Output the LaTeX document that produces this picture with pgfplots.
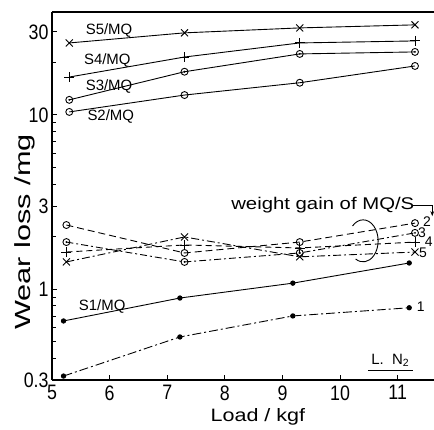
\documentclass[border=0pt]{standalone}
\usepackage{fontspec}
\setmainfont{Liberation Sans}
\newfontfamily\tickfont[FakeStretch=0.85]{Liberation Sans}
\newfontfamily\widefont[FakeStretch=1.2]{Liberation Sans}
\newfontfamily\labelfont[FakeStretch=1.4]{Liberation Sans}
\usepackage{pgfplots}
\usepackage{pgfplotstable}
\pgfplotsset{compat=1.18}
\usetikzlibrary{calc,arrows.meta}

% circle with a dot in it
\pgfdeclareplotmark{odot}{%
  \pgfpathcircle{\pgfpointorigin}{\pgfplotmarksize}\pgfusepathqstroke
  \pgfpathcircle{\pgfpointorigin}{0.3\pgfplotmarksize}\pgfusepathqfill}

% wear loss, S/MQ couples
\pgfplotstableread{
x y
5.3 25.9
7.3 29.6
9.3 31.6
11.3 32.9
}\sfive
\pgfplotstableread{
x y
5.3 16.5
7.3 21.5
9.3 25.9
11.3 26.6
}\sfour
\pgfplotstableread{
x y
5.3 12.2
7.3 17.7
9.3 22.4
11.3 23.0
}\sthree
\pgfplotstableread{
x y
5.3 10.4
7.3 13.0
9.3 15.3
11.3 19.1
}\stwo
\pgfplotstableread{
x y
5.2 0.655
7.22 0.887
9.18 1.08
11.2 1.41
}\sone
% weight gain of MQ/S
\pgfplotstableread{
x y
5.2 0.316
7.22 0.53
9.18 0.70
11.2 0.78
}\gone
\pgfplotstableread{
x y
5.25 2.33
7.3 1.61
9.3 1.86
11.3 2.39
}\gtwo
\pgfplotstableread{
x y
5.25 1.86
7.3 1.43
9.3 1.61
11.3 2.10
}\gthree
\pgfplotstableread{
x y
5.25 1.63
7.3 1.79
9.3 1.72
11.3 1.86
}\gfour
\pgfplotstableread{
x y
5.25 1.43
7.3 1.99
9.3 1.53
11.3 1.63
}\gfive

\begin{document}
\begin{tikzpicture}
\begin{axis}[
  name=ax,
  scale only axis,
  width=382bp, height=368bp,
  xmin=5, xmax=11.63,
  ymode=log, ymin=0.3, ymax=39,
  axis x line*=bottom, axis y line*=left,
  axis line style={-, line width=1.1pt},
  xtick={5,...,11}, xticklabels={5,6,7,8,9,10,11},
  ytick={0.3,1,3,10,30}, yticklabels={0.3,1,3,10,30},
  minor ytick={0.4,0.5,0.6,0.7,0.8,0.9,2,4,5,6,7,8,9,20},
  tick align=inside,
  major tick length=5bp, minor tick length=4bp,
  every tick/.style={black, line width=0.8pt},
  ticklabel style={font=\tickfont\fontsize{21}{21}\selectfont},
  xticklabel style={yshift=-2bp},
  xlabel={Load / kgf},
  ylabel={Wear loss /mg},
  xlabel style={at={(axis description cs:0.539,-0.1005)}, anchor=center,
    font=\widefont\fontsize{18}{18}\selectfont},
  ylabel style={at={(axis description cs:-0.0707,0.402)}, anchor=center,
    font=\labelfont\fontsize{22}{22}\selectfont},
  clip=false,
  every axis plot/.append style={black, line width=0.9pt},
]
\draw[line width=1.1pt] (rel axis cs:0,1) -- (rel axis cs:1,1);

\addplot[mark=x, mark size=5pt] table {\sfive};
\addplot[mark=+, mark size=5pt] table {\sfour};
\addplot[mark=odot, mark size=3.5pt] table {\sthree};
\addplot[mark=o, mark size=3.5pt] table {\stwo};
\addplot[mark=*, mark size=2.2pt] table {\sone};

\addplot[dash pattern=on 9pt off 3pt on 2pt off 3pt, mark=*, mark size=2.2pt, mark options={solid}] table {\gone};
\addplot[dash pattern=on 7pt off 4pt, mark=o, mark size=3.5pt, mark options={solid}] table {\gtwo};
\addplot[dash pattern=on 7pt off 3pt on 2pt off 3pt, mark=odot, mark size=3.5pt, mark options={solid}] table {\gthree};
\addplot[dash pattern=on 6pt off 4pt, mark=+, mark size=5pt, mark options={solid}] table {\gfour};
\addplot[dash pattern=on 8pt off 3pt on 2pt off 3pt, mark=x, mark size=5pt, mark options={solid}] table {\gfive};

\begin{scope}[font=\fontsize{15}{15}\selectfont]
\node at (axis cs:5.99,30.6) {S5/MQ};
\node at (axis cs:5.96,20.4) {S4/MQ};
\node at (axis cs:5.99,14.6) {S3/MQ};
\node at (axis cs:6.02,9.8) {S2/MQ};
\node at (axis cs:5.87,0.79) {S1/MQ};
\end{scope}

\node[font=\widefont\fontsize{17}{17}\selectfont] at (axis cs:9.70,3.04) {weight gain of MQ/S};
\draw[line width=0.8pt, -{Stealth[length=5pt]}] (axis cs:11.25,3.04) -- (axis cs:11.6,3.04) -- (axis cs:11.6,2.62);
\draw[line width=0.9pt] (axis cs:10.40,1.89) ++(135:15bp and 21bp)
  arc[start angle=135, end angle=-120, x radius=15bp, y radius=21bp];

\begin{scope}[font=\fontsize{14}{14}\selectfont]
\node at (axis cs:11.51,2.45) {2};
\node at (axis cs:11.42,2.10) {3};
\node at (axis cs:11.54,1.86) {4};
\node at (axis cs:11.44,1.61) {5};
\node at (axis cs:11.40,0.79) {1};
\end{scope}

\node[font=\fontsize{15}{15}\selectfont] (ln) at (axis cs:10.87,0.39) {L.\ \ N\textsubscript{2}};
\draw[line width=0.8pt] (ln.south west) -- (ln.south east);
\end{axis}
\pgfresetboundingbox
\path[use as bounding box] ($(ax.south west)+(-52bp,-50bp)$) rectangle ($(ax.north east)+(0,12bp)$);
\end{tikzpicture}
\end{document}
